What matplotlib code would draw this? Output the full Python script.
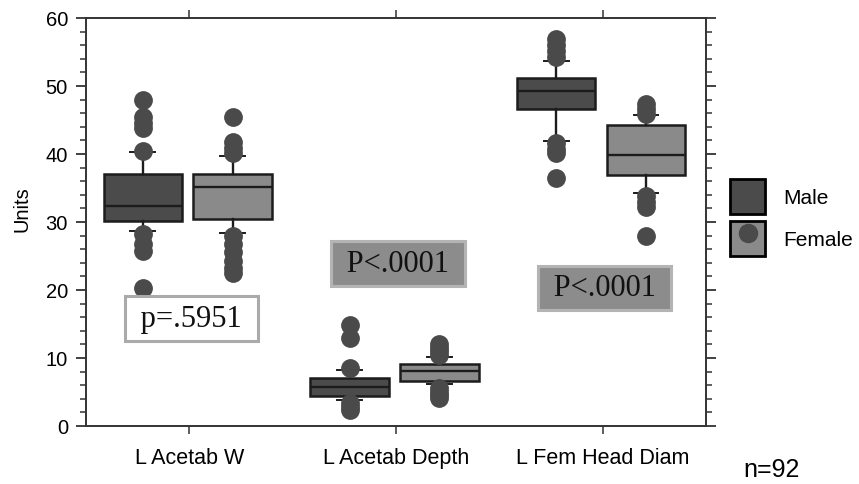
import matplotlib
matplotlib.use("Agg")
import matplotlib.pyplot as plt
from matplotlib.patches import Patch
from matplotlib.lines import Line2D
from matplotlib.ticker import MultipleLocator

# ---------------- data ----------------
categories = ["L Acetab W", "L Acetab Depth", "L Fem Head Diam"]
groups = ["Male", "Female"]

# box statistics per category (Male)
male_q1 = [30.2, 4.4, 46.6]
male_med = [32.4, 5.7, 49.2]
male_q3 = [37.1, 7.1, 51.2]
male_whislo = [28.7, 3.8, 41.9]
male_whishi = [40.3, 8.3, 53.7]
male_fliers = [
    [40.5, 43.8, 44.6, 45.4, 48.0, 28.3, 26.8, 25.8, 20.3],
    [8.6, 12.9, 14.9, 3.4, 2.8, 2.3],
    [54.3, 55.2, 56.0, 56.9, 41.6, 40.8, 40.1, 36.4],
]

# box statistics per category (Female)
female_q1 = [30.5, 6.6, 36.9]
female_med = [35.2, 8.1, 39.8]
female_q3 = [37.0, 9.1, 44.2]
female_whislo = [28.4, 6.2, 34.2]
female_whishi = [39.7, 10.2, 45.7]
female_fliers = [
    [40.1, 40.9, 41.7, 45.4, 28.0, 26.8, 25.6, 24.3, 23.2, 22.5],
    [10.5, 11.0, 11.5, 12.1, 5.6, 5.0, 4.5, 4.1],
    [45.9, 46.6, 47.4, 33.8, 32.9, 32.2, 27.9],
]

p_labels = ["p=.5951", "P<.0001", "P<.0001"]
p_y = [15.8, 23.9, 20.3]
sample_note = "n=92"

# ---------------- style ----------------
male_color = "#4b4b4b"
female_color = "#8a8a8a"
flier_color = "#4a4a4a"
edge_color = "#1c1c1c"
sans = ["Liberation Sans", "DejaVu Sans"]
serif = ["Liberation Serif", "DejaVu Serif"]

fig = plt.figure(figsize=(8.59, 4.85), dpi=100)
ax = fig.add_axes([86 / 859, 1 - 427 / 485, (706 - 86) / 859, (427 - 19) / 485])


def make_stats(q1, med, q3, lo, hi, fl):
    return [dict(q1=a, med=b, q3=c, whislo=d, whishi=e, fliers=f)
            for a, b, c, d, e, f in zip(q1, med, q3, lo, hi, fl)]


xs = list(range(len(categories)))
specs = [
    (make_stats(male_q1, male_med, male_q3, male_whislo, male_whishi, male_fliers), -0.225, male_color),
    (make_stats(female_q1, female_med, female_q3, female_whislo, female_whishi, female_fliers), 0.21, female_color),
]
for stats, off, col in specs:
    ax.bxp(stats, positions=[x + off for x in xs], widths=0.38,
           patch_artist=True, showfliers=True, manage_ticks=False,
           boxprops=dict(facecolor=col, edgecolor=edge_color, linewidth=1.8),
           medianprops=dict(color=edge_color, linewidth=1.7),
           whiskerprops=dict(color=edge_color, linewidth=1.7),
           capprops=dict(color=edge_color, linewidth=1.4),
           capwidths=0.12,
           flierprops=dict(marker="o", markersize=12.5, markerfacecolor=flier_color,
                           markeredgecolor=flier_color, linestyle="none"))

# p-value annotations
box_styles = [
    dict(facecolor="white", edgecolor="#aaaaaa"),
    dict(facecolor="#8c8c8c", edgecolor="#b4b4b4"),
    dict(facecolor="#8c8c8c", edgecolor="#b4b4b4"),
]
for x, y, lab, bs in zip(xs, p_y, p_labels, box_styles):
    ax.text(x + 0.01, y, " " + lab + " ", ha="center", va="center", fontsize=22,
            family=serif, color="#111111",
            bbox=dict(boxstyle="square,pad=0.26", linewidth=2.2, **bs))

ax.set_xlim(-0.5, 2.5)
ax.set_ylim(0, 60)
ax.set_xticks(xs)
ax.set_xticklabels(categories, fontsize=15.5, family=sans)
ax.yaxis.set_major_locator(MultipleLocator(10))
ax.yaxis.set_minor_locator(MultipleLocator(2))
for lab in ax.get_yticklabels():
    lab.set_fontsize(14.5)
    lab.set_family(sans)
ax.tick_params(axis="y", which="major", length=7, width=1.3, direction="out",
               left=True, right=True, color="#333333", pad=6)
ax.tick_params(axis="y", which="minor", length=4, width=1.1, direction="out",
               left=True, right=True, color="#333333")
ax.tick_params(axis="x", which="major", length=6, width=1.1, direction="out",
               bottom=True, top=True, color="#333333", pad=9)
for s in ax.spines.values():
    s.set_color("#333333")
    s.set_linewidth(1.4)
ax.set_ylabel("Units", fontsize=14.5, family=sans)
ax.yaxis.set_label_coords(-0.088, 0.535)

# legend
handles = [Patch(facecolor=male_color, edgecolor="black", linewidth=2),
           (Patch(facecolor=female_color, edgecolor="black", linewidth=2),
            Line2D([], [], marker="o", markersize=13, color=flier_color, linestyle="none"))]
fig.legend(handles, groups, loc="upper left", bbox_to_anchor=(730 / 859, 1 - 180 / 485),
           frameon=False, prop=dict(family=sans, size=15),
           handlelength=1.7, handleheight=2.2, labelspacing=0.33,
           handletextpad=0.85, borderpad=0, borderaxespad=0)

fig.text(743 / 859, 1 - 470 / 485, sample_note, fontsize=18, family=sans,
         va="center", ha="left")

fig.savefig("out.png", dpi=100)
